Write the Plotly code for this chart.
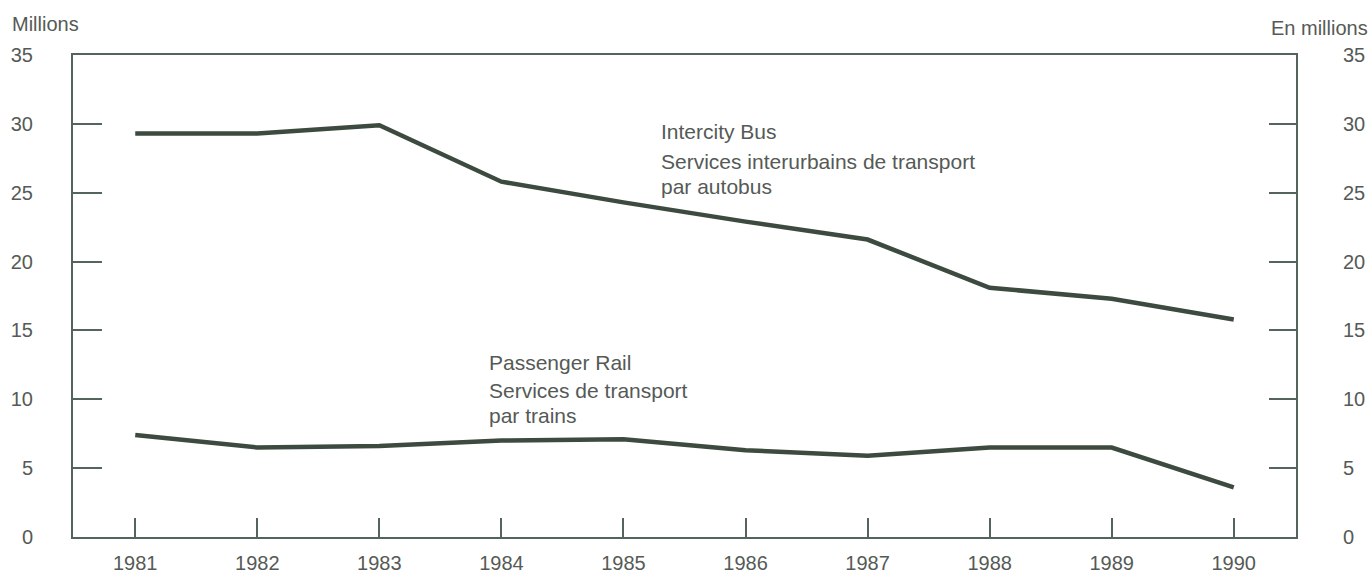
import plotly.graph_objects as go

years = [1981, 1982, 1983, 1984, 1985, 1986, 1987, 1988, 1989, 1990]
bus = [29.3, 29.3, 29.9, 25.8, 24.3, 22.9, 21.6, 18.1, 17.3, 15.8]
rail = [7.4, 6.5, 6.6, 7.0, 7.1, 6.3, 5.9, 6.5, 6.5, 3.6]
y_ticks = [0, 5, 10, 15, 20, 25, 30, 35]

line_color = "#3c4a40"
axis_color = "#55645a"
text_color = "#555a56"
font_family = "Liberation Sans, Arial, sans-serif"

FW, FH = 1372, 573
L, R, T, B = 73, FW - 1296, 55, FH - 537

fig = go.Figure()
fig.add_trace(go.Scatter(x=years, y=bus, mode="lines",
                         line=dict(color=line_color, width=4.5), showlegend=False))
fig.add_trace(go.Scatter(x=years, y=rail, mode="lines",
                         line=dict(color=line_color, width=4.5), showlegend=False))
# invisible trace for right axis
fig.add_trace(go.Scatter(x=years, y=bus, mode="lines", yaxis="y2",
                         line=dict(width=0), opacity=0, showlegend=False, hoverinfo="skip"))

fig.update_layout(
    width=FW, height=FH,
    margin=dict(l=L, r=R, t=T, b=B, autoexpand=False),
    paper_bgcolor="white", plot_bgcolor="white",
    font=dict(family=font_family, size=20, color=text_color),
    xaxis=dict(
        range=[1980.49, 1990.51], tickvals=years, ticktext=[str(y) for y in years],
        ticks="inside", ticklen=19, tickwidth=2, tickcolor=axis_color,
        showline=True, linecolor=axis_color, linewidth=2, mirror=True,
        showgrid=False, zeroline=False, ticklabelstandoff=7, automargin=False,
        tickfont=dict(size=20, color=text_color),
    ),
    yaxis=dict(
        range=[0, 35], tickvals=y_ticks,
        ticks="inside", ticklen=29, tickwidth=2, tickcolor=axis_color,
        showline=True, linecolor=axis_color, linewidth=2,
        showgrid=False, zeroline=False, ticklabelstandoff=34, automargin=False,
        tickfont=dict(size=20, color=text_color),
    ),
    yaxis2=dict(
        range=[0, 35], tickvals=y_ticks, overlaying="y", side="right",
        ticks="inside", ticklen=27, tickwidth=2, tickcolor=axis_color,
        showline=True, linecolor=axis_color, linewidth=2,
        showgrid=False, zeroline=False, ticklabelstandoff=41, automargin=False,
        tickfont=dict(size=20, color=text_color),
    ),
)

W, H = FW - L - R, FH - T - B
def px(xs): return (xs - L) / W
def py(ys): return (FH - B - ys) / H

def ann(xs, ys, text, xanchor="left", size=21):
    fig.add_annotation(x=px(xs), y=py(ys), xref="paper", yref="paper", text=text,
                       showarrow=False, xanchor=xanchor, yanchor="middle",
                       font=dict(family=font_family, size=size, color=text_color))

ann(10, 24, "Millions", size=20)
ann(1370, 28, "En millions", xanchor="right", size=20)

ann(659, 131, "Intercity Bus")
ann(659, 161, "Services interurbains de transport")
ann(659, 186, "par autobus")

ann(487, 362, "Passenger Rail")
ann(487, 390, "Services de transport")
ann(487, 415, "par trains")

fig.write_html(
    "out.html",
    config={"displayModeBar": False},
    post_script="document.body.style.margin='0';document.body.style.overflow='hidden';",
)
